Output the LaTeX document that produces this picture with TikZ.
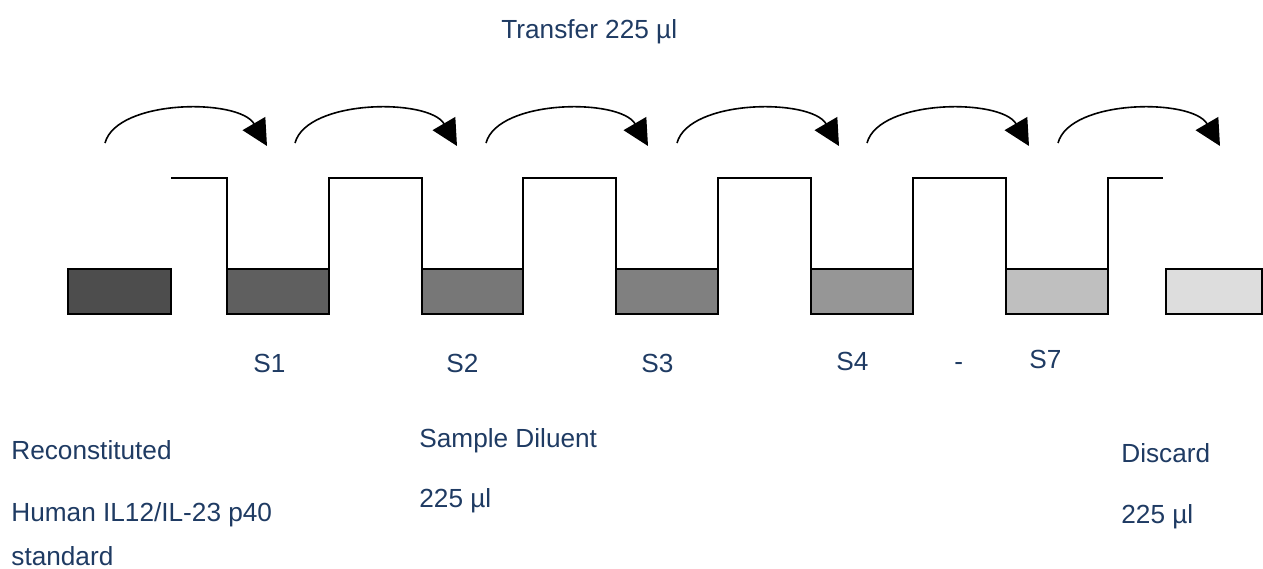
\documentclass[tikz,border=0pt]{standalone}
\usepackage{fontspec}
\setmainfont{Liberation Sans}
\usetikzlibrary{arrows.meta}
\definecolor{txt}{HTML}{1F3B63}
\definecolor{g0}{HTML}{4D4D4D}
\definecolor{g1}{HTML}{5F5F5F}
\definecolor{g2}{HTML}{777777}
\definecolor{g3}{HTML}{808080}
\definecolor{g4}{HTML}{969696}
\definecolor{g5}{HTML}{BFBFBF}
\definecolor{g6}{HTML}{DDDDDD}
\begin{document}
\begin{tikzpicture}[x=0.5pt,y=-0.5pt,
  lbl/.style={anchor=base west, inner sep=0pt, text=txt, font=\fontsize{13.1}{15.7}\selectfont},
  well/.style={draw=black, line width=0.75pt},
  wall/.style={draw=black, line width=0.6pt},
  xfer/.style={draw=black, line width=0.8pt, -{Triangle[length=13pt,width=13pt]}}]
\useasboundingbox (0,0) rectangle (1263,568);
\fill[white] (0,0) rectangle (1263,568);

% profile of the wells
\draw[wall] (171,178) -- (227,178) -- (227,269) -- (329,269) -- (329,178) -- (422,178)
  -- (422,269) -- (523,269) -- (523,178) -- (616,178) -- (616,269) -- (718,269)
  -- (718,178) -- (811,178) -- (811,269) -- (913,269) -- (913,178) -- (1006,178)
  -- (1006,269) -- (1108,269) -- (1108,178) -- (1163,178);

% liquid
\draw[well, fill=g0] (68,269) rectangle (171,314);
\draw[well, fill=g1] (227,269) rectangle (329,314);
\draw[well, fill=g2] (422,269) rectangle (523,314);
\draw[well, fill=g3] (616,269) rectangle (718,314);
\draw[well, fill=g4] (811,269) rectangle (913,314);
\draw[well, fill=g5] (1006,269) rectangle (1108,314);
\draw[well, fill=g6] (1166,269) rectangle (1262,314);

% transfer arrows
\foreach \i/\x in {1/105,2/295,3/486,4/677,5/867,6/1058} {
  \coordinate (s\i) at (\x,143);
  \coordinate (e\i) at (\x+162,146);
  \draw[xfer] (s\i) .. controls +(12,-44) and +(-28,-48) .. (e\i);
}

% labels
\node[lbl] (transfer) at (501,38.3) {Transfer 225 µl};
\node[lbl] (s1) at (253,372) {S1};
\node[lbl] (s2) at (446,372) {S2};
\node[lbl] (s3) at (641,372) {S3};
\node[lbl] (s4) at (836,370) {S4};
\node[lbl] (dash) at (954,370) {-};
\node[lbl] (s7) at (1029,368) {S7};
\node[lbl] (recon) at (11,459) {Reconstituted};
\node[lbl] (human) at (11,521.7) {Human IL12/IL-23 p40};
\node[lbl] (stand) at (11,565) {standard};
\node[lbl] (diluent) at (419,447.3) {Sample Diluent};
\node[lbl] (dilvol) at (419,507.3) {225 µl};
\node[lbl] (discard) at (1121,462) {Discard};
\node[lbl] (discvol) at (1121,523.5) {225 µl};
\end{tikzpicture}
\end{document}
